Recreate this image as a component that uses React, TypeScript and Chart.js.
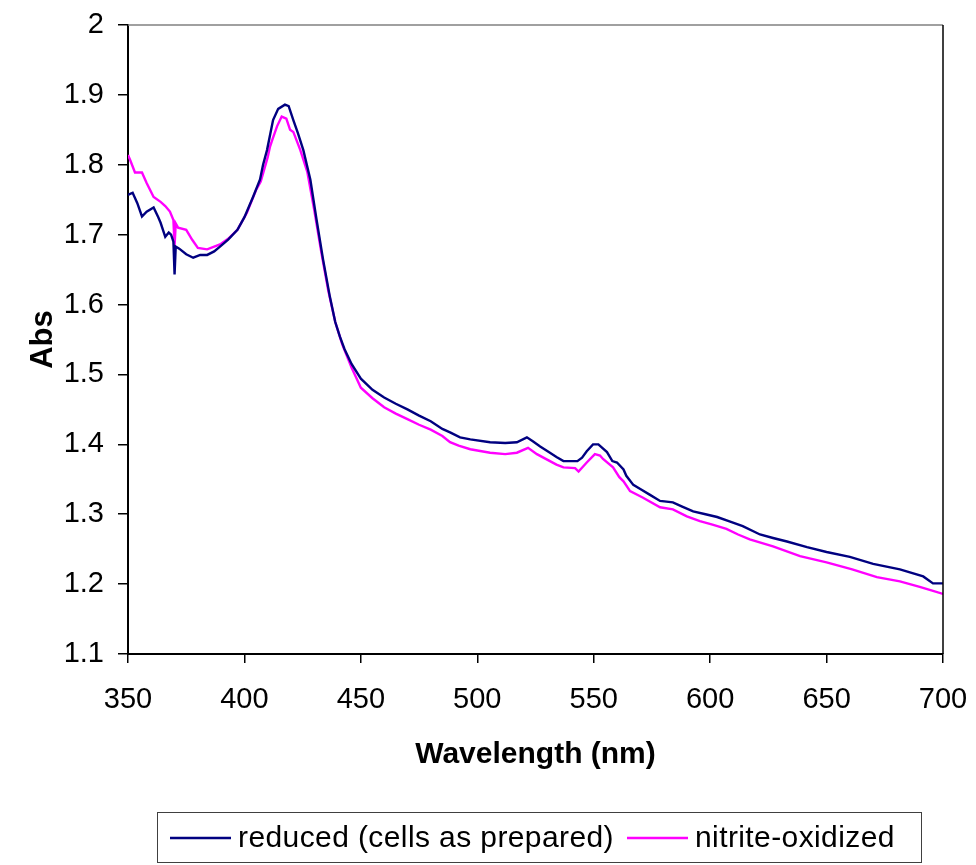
import React, { useEffect, useRef } from "react";
import { Chart, registerables } from "chart.js";

Chart.register(...registerables);

// ---- data ----
const reducedLabel = "reduced (cells as prepared)";
const oxidizedLabel = "nitrite-oxidized";

const reducedWl = [
  350, 352, 354, 356, 358, 361, 363, 364, 366, 367.5, 368.5, 369.5, 370, 370.5, 372, 375, 378, 381, 384, 387,
  389.5, 393, 397, 400, 403.7, 406.7, 408, 409.7, 412.3, 414.5, 417.4, 419, 421, 423, 425.3, 428.3, 431, 433.8,
  436.7, 439, 441, 443, 446, 450, 455, 460, 465, 470, 475, 480, 485, 488.3, 492.6, 497, 505.5, 512, 517, 521.3,
  524, 527, 531.2, 534, 537, 543, 545, 547, 549.7, 552, 555.7, 558, 560, 562.8, 564, 567, 570, 574, 578.5, 584,
  588, 592.7, 598, 603, 608, 614, 621.4, 627, 633, 641.6, 650, 660, 670, 681.5, 691.5, 695.7, 700,
];
const reducedAbs = [
  1.757, 1.76, 1.745, 1.726, 1.733, 1.739, 1.725, 1.717, 1.697, 1.703, 1.7, 1.69, 1.643, 1.683, 1.68, 1.672, 1.667,
  1.671, 1.671, 1.676, 1.683, 1.693, 1.707, 1.725, 1.754, 1.779, 1.8, 1.821, 1.864, 1.88, 1.886, 1.884, 1.864,
  1.845, 1.821, 1.779, 1.721, 1.664, 1.611, 1.575, 1.554, 1.536, 1.515, 1.494, 1.478, 1.467, 1.458, 1.45, 1.441,
  1.433, 1.422, 1.417, 1.41, 1.407, 1.403, 1.402, 1.403, 1.41, 1.404, 1.397, 1.388, 1.382, 1.376, 1.376, 1.381,
  1.39, 1.4, 1.4, 1.389, 1.376, 1.374, 1.364, 1.355, 1.342, 1.336, 1.328, 1.319, 1.317, 1.311, 1.304, 1.3, 1.296,
  1.29, 1.283, 1.271, 1.266, 1.261, 1.253, 1.246, 1.239, 1.229, 1.221, 1.211, 1.201, 1.201,
];

const oxidizedWl = [
  350, 351, 353, 356, 358, 361, 364, 366, 368, 369.5, 370, 370.5, 371.5, 375, 377.5, 380, 384, 389.5, 393, 397,
  401, 405, 407, 410, 411, 412, 414, 416, 418, 419.6, 421, 424, 427, 430, 433, 436, 439, 442, 446, 450, 455, 460,
  465, 470, 475, 480, 485, 488.3, 492, 497, 505.5, 512, 517, 521.8, 525.6, 531.2, 534, 537, 542, 543.5, 547,
  550.5, 552.7, 554, 558.3, 561, 562.8, 565.6, 571, 578.5, 584, 590, 595.6, 601, 607, 612, 617, 627, 638.6, 650,
  661, 671.6, 681.5, 690, 695, 700,
];
const oxidizedAbs = [
  1.814, 1.806, 1.789, 1.789, 1.774, 1.754, 1.747, 1.741, 1.733, 1.721, 1.684, 1.716, 1.71, 1.707, 1.693, 1.681,
  1.679, 1.686, 1.694, 1.707, 1.731, 1.764, 1.776, 1.811, 1.826, 1.836, 1.855, 1.869, 1.866, 1.85, 1.847, 1.821,
  1.79, 1.735, 1.675, 1.62, 1.575, 1.543, 1.51, 1.481, 1.466, 1.453, 1.444, 1.436, 1.428, 1.421, 1.412, 1.403,
  1.398, 1.393, 1.388, 1.386, 1.388, 1.395, 1.386, 1.376, 1.371, 1.367, 1.366, 1.361, 1.374, 1.386, 1.384, 1.379,
  1.367, 1.353, 1.347, 1.333, 1.324, 1.31, 1.307, 1.297, 1.29, 1.285, 1.279, 1.271, 1.264, 1.254, 1.24, 1.231,
  1.221, 1.21, 1.204, 1.196, 1.191, 1.186,
];

const xTicks = [350, 400, 450, 500, 550, 600, 650, 700];
const yTicks = [1.1, 1.2, 1.3, 1.4, 1.5, 1.6, 1.7, 1.8, 1.9, 2];
const yTickLabels = ["1.1", "1.2", "1.3", "1.4", "1.5", "1.6", "1.7", "1.8", "1.9", "2"];

const xTitle = "Wavelength (nm)";
const yTitle = "Abs";

const NAVY = "#000080";
const PINK = "#FF00FF";
const FONT = "'Liberation Sans', Arial, Helvetica, sans-serif";

const framePlugin = {
  id: "frameAndLegend",
  afterDraw(chart: any) {
    const { ctx, chartArea } = chart;
    const { left, right, top, bottom } = chartArea;
    ctx.save();
    // top (gray) and right (black) borders of plot area
    ctx.lineWidth = 1.5;
    ctx.strokeStyle = "#808080";
    ctx.beginPath();
    ctx.moveTo(left, top);
    ctx.lineTo(right, top);
    ctx.stroke();
    ctx.strokeStyle = "#000000";
    ctx.beginPath();
    ctx.moveTo(right, top);
    ctx.lineTo(right, bottom);
    ctx.stroke();

    // legend box
    const bx = 157, by = 812, bw = 764, bh = 50;
    ctx.lineWidth = 1;
    ctx.strokeStyle = "#404040";
    ctx.strokeRect(bx + 0.5, by + 0.5, bw, bh);

    ctx.font = `30px ${FONT}`;
    try {
      (ctx as any).letterSpacing = "0.4px";
    } catch (e) {}
    ctx.fillStyle = "#000";
    ctx.textBaseline = "alphabetic";
    ctx.textAlign = "left";
    const lineY = 838;
    const baseY = 847;
    const lineStarts = [170, 627];
    chart.data.datasets.forEach((d: any, i: number) => {
      const x = lineStarts[i];
      ctx.strokeStyle = d.borderColor;
      ctx.lineWidth = 2.5;
      ctx.beginPath();
      ctx.moveTo(x, lineY);
      ctx.lineTo(x + 61, lineY);
      ctx.stroke();
      ctx.fillText(d.label, x + 68, baseY);
    });
    ctx.restore();
  },
};

export default function App() {
  const ref = useRef<HTMLCanvasElement | null>(null);

  useEffect(() => {
    document.body.style.margin = "0";
    if (!ref.current) return;
    const toPts = (xs: number[], ys: number[]) => xs.map((x, i) => ({ x, y: ys[i] }));
    const zeroPad = (s: any) => {
      s.paddingTop = 0;
      s.paddingBottom = 0;
      s.paddingLeft = 0;
      s.paddingRight = 0;
    };
    const chart = new Chart(ref.current, {
      type: "line",
      data: {
        datasets: [
          {
            label: reducedLabel,
            data: toPts(reducedWl, reducedAbs),
            borderColor: NAVY,
            backgroundColor: NAVY,
            borderWidth: 2.4,
            pointRadius: 0,
            tension: 0,
          },
          {
            label: oxidizedLabel,
            data: toPts(oxidizedWl, oxidizedAbs),
            borderColor: PINK,
            backgroundColor: PINK,
            borderWidth: 2.4,
            pointRadius: 0,
            tension: 0,
          },
        ],
      },
      options: {
        responsive: false,
        animation: false,
        layout: { padding: { left: 0, right: 33, top: 25, bottom: 92 } },
        plugins: {
          legend: { display: false },
          tooltip: { enabled: false },
        },
        scales: {
          x: {
            type: "linear",
            min: 350,
            max: 700,
            afterBuildTicks: (s: any) => {
              s.ticks = xTicks.map((v) => ({ value: v }));
            },
            afterFit: (s: any) => {
              s.height = 119;
              zeroPad(s);
            },
            ticks: {
              color: "#000",
              font: { family: FONT, size: 29 },
              padding: 20,
              maxRotation: 0,
              autoSkip: false,
              callback: (v: any) => String(v),
            },
            grid: {
              drawOnChartArea: false,
              drawTicks: true,
              tickLength: 9,
              color: "#000",
              lineWidth: 1.5,
            },
            border: { display: true, color: "#000", width: 2 },
            title: {
              display: true,
              text: xTitle,
              color: "#000",
              font: { family: FONT, size: 30, weight: "bold" },
              padding: { top: 0, bottom: 0 },
            },
          },
          y: {
            type: "linear",
            min: 1.1,
            max: 2,
            afterBuildTicks: (s: any) => {
              s.ticks = yTicks.map((v) => ({ value: v }));
            },
            afterFit: (s: any) => {
              s.width = 128;
              zeroPad(s);
            },
            ticks: {
              color: "#000",
              font: { family: FONT, size: 29 },
              padding: 14,
              autoSkip: false,
              callback: (v: any) => {
                const i = yTicks.findIndex((t) => Math.abs(t - v) < 1e-6);
                return i >= 0 ? yTickLabels[i] : "";
              },
            },
            grid: {
              drawOnChartArea: false,
              drawTicks: true,
              tickLength: 10,
              color: "#000",
              lineWidth: 1.5,
            },
            border: { display: true, color: "#000", width: 2 },
            title: {
              display: true,
              text: yTitle,
              color: "#000",
              font: { family: FONT, size: 31, weight: "bold" },
              padding: { top: 25, bottom: 0 },
            },
          },
        },
      },
      plugins: [framePlugin],
    });
    return () => chart.destroy();
  }, []);

  return (
    <div style={{ width: 976, height: 865, background: "#fff" }}>
      <canvas ref={ref} width={976} height={865} style={{ display: "block" }} />
    </div>
  );
}
